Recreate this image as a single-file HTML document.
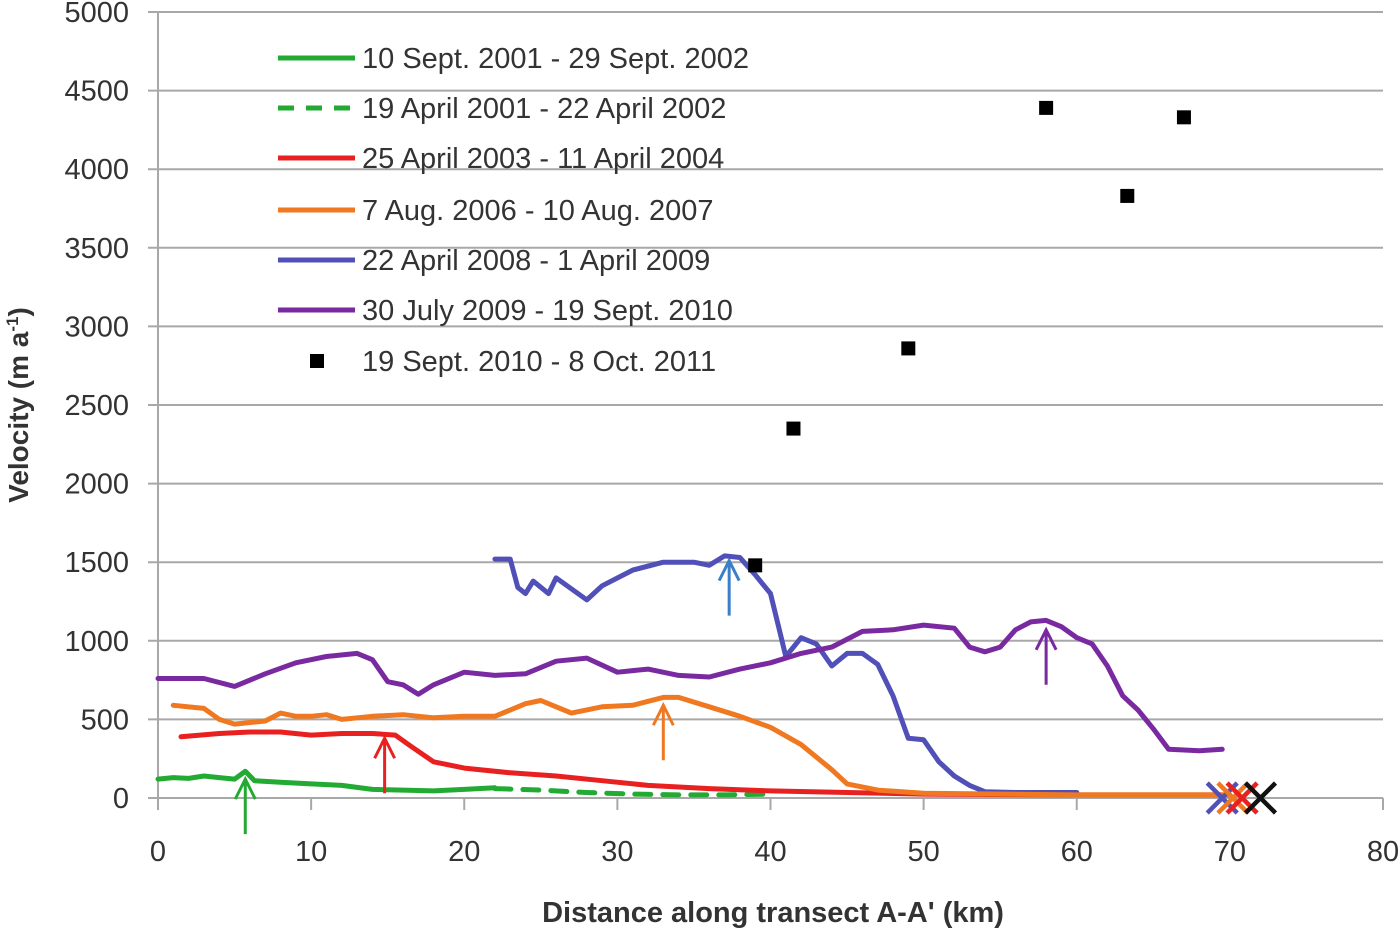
<!DOCTYPE html>
<html><head><meta charset="utf-8"><style>
body{margin:0;background:#fff;}
svg text{font-family:"Liberation Sans",sans-serif;fill:#333;}
</style></head><body>
<svg id="chart" width="1400" height="929" viewBox="0 0 1400 929" xmlns="http://www.w3.org/2000/svg"></svg>
<script>
const xTicks=[0,10,20,30,40,50,60,70,80];
const yTicks=[0,500,1000,1500,2000,2500,3000,3500,4000,4500,5000];
const greenX=[0,1,2,3,4,5,5.7,6.3,8,10,12,14,16,18,20,22];
const greenY=[120,130,125,140,130,120,170,110,100,90,80,55,50,45,55,65];
const greenDashX=[22,25,28,31,34,37,40];
const greenDashY=[60,50,35,25,20,20,25];
const redX=[1.5,4,6,8,10,12,14,15.5,16.5,18,20,23,26,29,32,36,40,45,50,60,70];
const redY=[390,410,420,420,400,410,410,400,330,230,190,160,140,110,80,60,45,35,25,20,20];
const orangeX=[1,3,4,5,7,8,9,10,11,12,14,16,18,20,22,24,25,26,27,29,31,33,34,36,38,40,42,44,45,47,50,60,70];
const orangeY=[590,570,500,470,490,540,520,520,530,500,520,530,510,520,520,600,620,580,540,580,590,640,640,580,520,450,340,180,90,50,30,20,20];
const blueX=[22,23,23.5,24,24.5,25.5,26,28,29,31,33,35,36,37,38,39,40,40.5,41,42,43,44,45,46,47,48,49,50,51,52,53,54,56,60];
const blueY=[1520,1520,1340,1300,1380,1300,1400,1260,1350,1450,1500,1500,1480,1540,1530,1420,1300,1100,900,1020,980,840,920,920,850,650,380,370,230,140,80,40,35,35];
const purpleX=[0,3,5,7,9,11,13,14,15,16,17,18,20,22,24,26,28,30,32,34,36,38,40,42,44,46,48,50,52,53,54,55,56,57,58,59,60,61,62,63,64,65,66,68,69.5];
const purpleY=[760,760,710,790,860,900,920,880,740,720,660,720,800,780,790,870,890,800,820,780,770,820,860,920,960,1060,1070,1100,1080,960,930,960,1070,1120,1130,1090,1020,980,840,650,560,440,310,300,310];
const squareX=[39,41.5,49,58,63.3,67];
const squareY=[1480,2350,2860,4390,3830,4330];
const crossX=[69.5,70.2,70.8,72];
const crossC=["#5050b8","#f07820","#e82020","#111"];
const arrowX=[5.7,14.8,33,37.3,58];
const arrowTip=[120,380,590,1510,1070];
const arrowC=["#22aa33","#e82020","#f07820","#3a7fc8","#7a2aa0"];
const legendLabels=["10 Sept. 2001 - 29 Sept. 2002","19 April 2001 - 22 April 2002","25 April 2003 - 11 April 2004","7 Aug. 2006 - 10 Aug. 2007","22 April 2008 - 1 April 2009","30 July 2009 - 19 Sept. 2010","19 Sept. 2010 - 8 Oct. 2011"];

const svg=document.getElementById('chart');
const NS='http://www.w3.org/2000/svg';
const X0=158,X1=1383,Y0=798,Y1=12;
const sx=v=>X0+(v-0)/80*(X1-X0);
const sy=v=>Y0-(v/5000)*(Y0-Y1);
function mk(t,a){const e=document.createElementNS(NS,t);for(const k in a)e.setAttribute(k,a[k]);svg.appendChild(e);return e;}
function txt(s,a){const e=mk('text',a);e.textContent=s;return e;}

yTicks.forEach(v=>{
  const l=mk('line',{x1:148,x2:X1,y1:sy(v),y2:sy(v),stroke:'#a8a8a8','stroke-width':2});
  
  
  const t=txt(v,{x:129,y:sy(v)+10,'text-anchor':'end','font-size':29});
  
  
});
const ya=mk('line',{x1:X0,x2:X0,y1:Y1,y2:Y0+10,stroke:'#a8a8a8','stroke-width':2});


xTicks.forEach(v=>{
  const l=mk('line',{x1:sx(v),x2:sx(v),y1:Y0,y2:Y0+12,stroke:'#a8a8a8','stroke-width':2});
  
  
  const t=txt(v,{x:sx(v),y:861,'text-anchor':'middle','font-size':29});
  
  
});
const xt=txt("Distance along transect A-A' (km)",{x:773,y:922,'text-anchor':'middle','font-size':29,'font-weight':'bold'});


const yt=mk('text',{x:0,y:0,transform:'translate(28,405) rotate(-90)','text-anchor':'middle','font-size':28,'font-weight':'bold'});
yt.innerHTML='Velocity (m a<tspan dy="-10" font-size="17">-1</tspan><tspan dy="10">)</tspan>';



function series(xs,ys,c,name,dash){
  const d=xs.map((x,i)=>(i?'L':'M')+sx(x).toFixed(1)+','+sy(ys[i]).toFixed(1)).join('');
  const p=mk('path',{d:d,fill:'none',stroke:c,'stroke-width':5,'stroke-linejoin':'round','stroke-linecap':'round'});
  if(dash)p.setAttribute('stroke-dasharray','16,12');
  
  
}
series(greenDashX,greenDashY,'#22aa33','series-2001-2002-april',true);
series(greenX,greenY,'#22aa33','series-2001-2002-sept',false);
series(redX,redY,'#e82020','series-2003-2004',false);
series(blueX,blueY,'#5050b8','series-2008-2009',false);
series(orangeX,orangeY,'#f07820','series-2006-2007',false);
series(purpleX,purpleY,'#7a2aa0','series-2009-2010',false);
squareX.forEach((x,i)=>{
  const r=mk('rect',{x:sx(x)-7,y:sy(squareY[i])-7,width:14,height:14,fill:'#000'});
  
  
});
crossX.forEach((x,i)=>{
  const cx=sx(x),cy=sy(0),s=15;
  const p=mk('path',{d:`M${cx-s},${cy-s}L${cx+s},${cy+s}M${cx+s},${cy-s}L${cx-s},${cy+s}`,stroke:crossC[i],'stroke-width':4.5,fill:'none'});
  
  
});
arrowX.forEach((x,i)=>{
  const cx=sx(x),ty=sy(arrowTip[i]);
  const p=mk('path',{d:`M${cx},${ty+55}L${cx},${ty}M${cx-10},${ty+20}L${cx},${ty}L${cx+10},${ty+20}`,stroke:arrowC[i],'stroke-width':3,fill:'none'});
  
  
});
const lc=['#22aa33','#22aa33','#e82020','#f07820','#5050b8','#7a2aa0','#000'];
const ly=[58,108,158,210,260,310,361];
legendLabels.forEach((s,i)=>{
  let m;
  if(i<6){m=mk('line',{x1:278,x2:355,y1:ly[i],y2:ly[i],stroke:lc[i],'stroke-width':5});if(i==1)m.setAttribute('stroke-dasharray','16,12');}
  else m=mk('rect',{x:310,y:ly[i]-7,width:14,height:14,fill:'#000'});
  
  
  const t=txt(s,{x:362,y:ly[i]+10,'font-size':29});
  
  
});
</script>
</body></html>
